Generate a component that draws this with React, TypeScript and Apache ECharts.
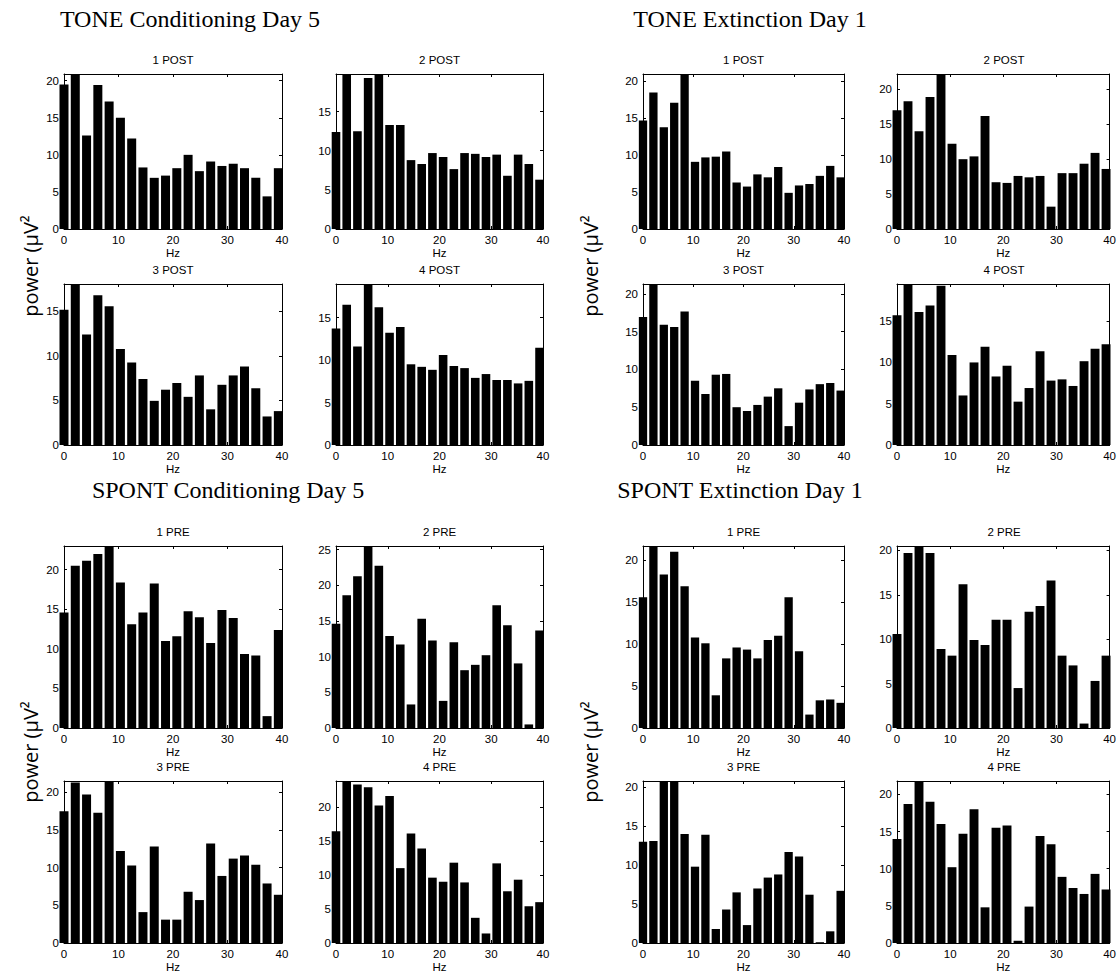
import React, { useEffect, useRef } from "react";
import * as echarts from "echarts";

// frequency bins (Hz) of the 20 bars
const HZ = [0, 2.07, 4.14, 6.21, 8.28, 10.35, 12.42, 14.49, 16.56, 18.63, 20.7, 22.77, 24.84, 26.91, 28.98, 31.05, 33.12, 35.19, 37.26, 39.33];
const X_TICK_STEP = 10;
const Y_TICK_STEP = 5;

const toneCond1 = [19.5, 20.9, 12.6, 19.4, 17.2, 15.0, 12.2, 8.3, 6.9, 7.2, 8.2, 10.0, 7.8, 9.1, 8.5, 8.8, 8.2, 6.9, 4.4, 8.2];
const toneCond2 = [12.4, 19.8, 12.5, 19.3, 19.8, 13.3, 13.3, 8.8, 8.3, 9.7, 9.2, 7.65, 9.7, 9.6, 9.2, 9.5, 6.8, 9.5, 8.3, 6.3];
const toneCond3 = [15.15, 18.05, 12.4, 16.8, 15.55, 10.75, 9.25, 7.4, 4.95, 6.2, 6.95, 5.4, 7.8, 4.0, 6.75, 7.8, 8.8, 6.35, 3.2, 3.8];
const toneCond4 = [13.7, 16.5, 11.6, 18.95, 16.2, 13.2, 13.9, 9.5, 9.2, 8.85, 10.6, 9.3, 9.05, 7.9, 8.35, 7.65, 7.65, 7.25, 7.55, 11.45];
const toneExt1 = [14.7, 18.5, 13.8, 17.1, 21.0, 9.1, 9.7, 9.8, 10.5, 6.3, 5.75, 7.4, 7.0, 8.4, 4.9, 5.9, 6.1, 7.2, 8.55, 7.0];
const toneExt2 = [17.0, 18.3, 14.0, 18.9, 22.2, 12.2, 10.0, 10.4, 16.2, 6.7, 6.6, 7.6, 7.4, 7.6, 3.2, 8.0, 8.0, 9.35, 10.9, 8.6];
const toneExt3 = [16.95, 21.3, 15.9, 15.6, 17.65, 8.5, 6.75, 9.3, 9.4, 5.0, 4.5, 5.3, 6.4, 7.5, 2.5, 5.6, 7.35, 8.05, 8.2, 7.2];
const toneExt4 = [15.7, 19.5, 16.1, 16.9, 19.3, 10.9, 6.0, 10.0, 11.9, 8.3, 9.6, 5.25, 6.9, 11.35, 7.8, 7.95, 7.15, 10.15, 11.65, 12.2];
const spontCond1 = [14.6, 20.5, 21.15, 22.0, 23.0, 18.4, 13.1, 14.6, 18.25, 11.0, 11.6, 14.75, 14.0, 10.75, 14.9, 13.9, 9.35, 9.15, 1.5, 12.4];
const spontCond2 = [14.6, 18.6, 21.25, 25.5, 22.75, 12.9, 11.7, 3.3, 15.3, 12.25, 3.8, 12.0, 8.1, 8.85, 10.2, 17.2, 14.4, 9.05, 0.5, 13.65];
const spontCond3 = [17.5, 21.3, 19.7, 17.3, 21.5, 12.2, 10.3, 4.1, 12.8, 3.1, 3.1, 6.8, 5.7, 13.2, 8.9, 11.2, 11.6, 10.4, 7.9, 6.4];
const spontCond4 = [16.4, 23.8, 23.3, 22.9, 20.2, 21.6, 11.0, 16.1, 13.9, 9.6, 9.0, 11.8, 8.9, 3.7, 1.4, 11.7, 7.6, 9.3, 5.4, 6.0];
const spontExt1 = [15.6, 21.7, 18.3, 21.0, 16.9, 10.8, 10.1, 3.9, 8.3, 9.6, 9.35, 8.3, 10.5, 11.0, 15.6, 9.15, 1.6, 3.3, 3.4, 3.0];
const spontExt2 = [10.6, 19.7, 20.5, 19.7, 8.9, 8.15, 16.2, 9.9, 9.35, 12.2, 12.2, 4.5, 13.1, 13.75, 16.6, 8.15, 7.05, 0.5, 5.3, 8.15];
const spontExt3 = [13.0, 13.1, 20.8, 20.8, 14.0, 9.8, 13.9, 1.8, 4.3, 6.5, 2.3, 7.0, 8.4, 8.8, 11.7, 11.1, 6.2, 0.1, 1.5, 6.7];
const spontExt4 = [14.0, 18.7, 21.8, 19.0, 16.0, 10.2, 14.7, 18.0, 4.8, 15.5, 15.8, 0.3, 4.9, 14.4, 13.3, 8.9, 7.4, 6.6, 9.3, 7.2];

const SECTION_TITLES = ["TONE Conditioning Day 5", "TONE Extinction Day 1", "SPONT Conditioning Day 5", "SPONT Extinction Day 1"];
const Y_LABEL = "power (µV²";
const X_NAME = "Hz";

// layout (pixels)
const COL_X = [64, 336, 643, 897];
const COL_W = [218, 207, 201, 214];
const ROW_Y = [74, 284, 546, 781];
const ROW_H = [155, 161, 182, 162];

const panels = [
  { title: "1 POST", values: toneCond1, col: 0, row: 0 },
  { title: "2 POST", values: toneCond2, col: 1, row: 0 },
  { title: "3 POST", values: toneCond3, col: 0, row: 1 },
  { title: "4 POST", values: toneCond4, col: 1, row: 1 },
  { title: "1 POST", values: toneExt1, col: 2, row: 0 },
  { title: "2 POST", values: toneExt2, col: 3, row: 0 },
  { title: "3 POST", values: toneExt3, col: 2, row: 1 },
  { title: "4 POST", values: toneExt4, col: 3, row: 1 },
  { title: "1 PRE", values: spontCond1, col: 0, row: 2 },
  { title: "2 PRE", values: spontCond2, col: 1, row: 2 },
  { title: "3 PRE", values: spontCond3, col: 0, row: 3 },
  { title: "4 PRE", values: spontCond4, col: 1, row: 3 },
  { title: "1 PRE", values: spontExt1, col: 2, row: 2 },
  { title: "2 PRE", values: spontExt2, col: 3, row: 2 },
  { title: "3 PRE", values: spontExt3, col: 2, row: 3 },
  { title: "4 PRE", values: spontExt4, col: 3, row: 3 },
];

const SANS = "'Liberation Sans', Arial, sans-serif";
const SERIF = "'Liberation Serif', 'Times New Roman', serif";

function txt(text: string, x: number, y: number, font: string, rotation = 0) {
  return {
    type: "text",
    x,
    y,
    rotation,
    silent: true,
    style: {
      text,
      font,
      fill: "#000",
      align: "center",
      verticalAlign: "middle",
      textAlign: "center",
      textVerticalAlign: "middle",
    },
  };
}

function buildOption() {
  const grid: any[] = [];
  const xAxis: any[] = [];
  const yAxis: any[] = [];
  const series: any[] = [];
  const graphic: any[] = [];

  panels.forEach((p, i) => {
    const left = COL_X[p.col];
    const top = ROW_Y[p.row];
    const width = COL_W[p.col];
    const height = ROW_H[p.row];
    grid.push({ left, top, width, height, show: false });
    const ymax = Math.max(...p.values);
    const binPx = (width / 40) * (HZ[1] - HZ[0]);
    const line = { show: true, onZero: false, lineStyle: { color: "#000", width: 1 } };
    const tick = { show: true, inside: true, length: 3, lineStyle: { color: "#000", width: 1 } };
    const baseX = {
      gridIndex: i, type: "value", min: 0, max: 40, interval: X_TICK_STEP,
      axisLine: line, axisTick: tick, splitLine: { show: false },
    };
    xAxis.push({
      ...baseX, position: "bottom",
      axisLabel: { show: true, color: "#000", fontSize: 11.5, fontFamily: SANS, margin: 5 },
      name: X_NAME, nameLocation: "middle", nameGap: 18,
      nameTextStyle: { color: "#000", fontSize: 11.5, fontFamily: SANS },
    });
    xAxis.push({ ...baseX, position: "top", axisLabel: { show: false } });
    const baseY = {
      gridIndex: i, type: "value", min: 0, max: ymax, interval: Y_TICK_STEP,
      axisLine: line, axisTick: tick, splitLine: { show: false },
    };
    yAxis.push({
      ...baseY, position: "left",
      axisLabel: {
        show: true, color: "#000", fontSize: 11.5, fontFamily: SANS, margin: 5,
        formatter: (v: number) => (Math.abs(v % Y_TICK_STEP) < 1e-6 ? String(v) : ""),
      },
    });
    yAxis.push({ ...baseY, position: "right", axisLabel: { show: false } });
    series.push({
      type: "bar",
      xAxisIndex: 2 * i,
      yAxisIndex: 2 * i,
      data: HZ.map((f, k) => [f, p.values[k]]),
      barWidth: Math.round(binPx * 0.8 * 10) / 10,
      clip: true,
      silent: true,
      itemStyle: { color: "#000" },
    });
    graphic.push(txt(p.title, left + width / 2, top - 14, `11.5px ${SANS}`));
  });

  // section titles
  const tf = `24px ${SERIF}`;
  graphic.push(txt(SECTION_TITLES[0], 190, 19, tf));
  graphic.push(txt(SECTION_TITLES[1], 750, 19, tf));
  graphic.push(txt(SECTION_TITLES[2], 228, 490, tf));
  graphic.push(txt(SECTION_TITLES[3], 740, 490, tf));

  // y-axis labels
  const yl = `20px 'Open Sans', sans-serif`;
  graphic.push(txt(Y_LABEL, 30, 266, yl, Math.PI / 2));
  graphic.push(txt(Y_LABEL, 590, 266, yl, Math.PI / 2));
  graphic.push(txt(Y_LABEL, 30, 752, yl, Math.PI / 2));
  graphic.push(txt(Y_LABEL, 590, 752, yl, Math.PI / 2));

  return {
    animation: false,
    backgroundColor: "#fff",
    grid,
    xAxis,
    yAxis,
    series,
    graphic: { elements: graphic },
  };
}

export default function App() {
  const ref = useRef<HTMLDivElement>(null);
  useEffect(() => {
    if (!ref.current) return;
    const chart = echarts.init(ref.current, undefined, { renderer: "svg" });
    chart.setOption(buildOption() as any);
    return () => chart.dispose();
  }, []);
  return (
    <div
      ref={ref}
      style={{ position: "absolute", left: 0, top: 0, width: 1119, height: 975, background: "#fff" }}
    />
  );
}
